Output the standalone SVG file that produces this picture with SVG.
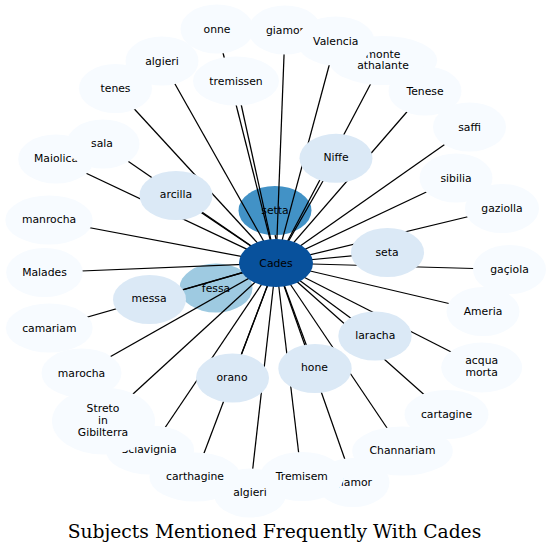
<svg xmlns="http://www.w3.org/2000/svg" width="551" height="554" viewBox="0 0 551 554">
<style>
.n ellipse{stroke:none}
.p{fill:#f7fbff}
.l{fill:#dbe9f6}
.t{font-family:"DejaVu Sans","Liberation Sans",sans-serif;font-size:10.8px;fill:#000;text-anchor:middle}
#edges line{stroke:#000;stroke-width:1.25}
.title{font-family:"DejaVu Serif","Liberation Serif",serif;font-size:18.7px;fill:#000;text-anchor:middle}
</style>
<rect width="551" height="554" fill="#fff"/>
<g id="node-setta" class="n"><ellipse cx="275" cy="210.5" rx="36.5" ry="24.5" fill="#4292c6"/><text class="t" x="275" y="214.2">setta</text></g>
<g id="node-fessa" class="n"><ellipse cx="216" cy="288" rx="36.5" ry="24.5" fill="#9ecae1"/><text class="t" x="216" y="291.7">fessa</text></g>
<g id="edges">
<line x1="276" y1="263" x2="217" y2="29"/>
<line x1="276" y1="263" x2="285" y2="30"/>
<line x1="276" y1="263" x2="383" y2="60.5"/>
<line x1="276" y1="263" x2="335.7" y2="41"/>
<line x1="276" y1="263" x2="162" y2="61"/>
<line x1="276" y1="263" x2="236" y2="81"/>
<line x1="276" y1="263" x2="115.5" y2="88.5"/>
<line x1="276" y1="263" x2="425" y2="91"/>
<line x1="276" y1="263" x2="469.5" y2="127"/>
<line x1="276" y1="263" x2="456" y2="178"/>
<line x1="276" y1="263" x2="502" y2="208.5"/>
<line x1="276" y1="263" x2="509.5" y2="269.5"/>
<line x1="276" y1="263" x2="483" y2="311.5"/>
<line x1="276" y1="263" x2="481.7" y2="367.5"/>
<line x1="276" y1="263" x2="446.5" y2="414.5"/>
<line x1="276" y1="263" x2="402.5" y2="451"/>
<line x1="276" y1="263" x2="353" y2="482.5"/>
<line x1="276" y1="263" x2="301.5" y2="476.5"/>
<line x1="276" y1="263" x2="250" y2="493"/>
<line x1="276" y1="263" x2="195" y2="477"/>
<line x1="276" y1="263" x2="150" y2="450"/>
<line x1="276" y1="263" x2="103.5" y2="421"/>
<line x1="276" y1="263" x2="81.5" y2="373"/>
<line x1="276" y1="263" x2="49.3" y2="328"/>
<line x1="276" y1="263" x2="44.5" y2="272.5"/>
<line x1="276" y1="263" x2="49" y2="220"/>
<line x1="276" y1="263" x2="56" y2="159"/>
<line x1="276" y1="263" x2="103" y2="144"/>
<line x1="276" y1="263" x2="176" y2="195.5"/>
<line x1="276" y1="263" x2="336" y2="158.3"/>
<line x1="276" y1="263" x2="387.5" y2="252.5"/>
<line x1="276" y1="263" x2="375" y2="336"/>
<line x1="276" y1="263" x2="315" y2="368.5"/>
<line x1="276" y1="263" x2="232.5" y2="378"/>
<line x1="276" y1="263" x2="149.5" y2="299.5"/>
<line x1="276" y1="239" x2="275.1" y2="235"/>
<line x1="245.2" y1="275.9" x2="246.9" y2="275.1"/>
</g>
<g id="node-onne" class="n"><ellipse class="p" cx="217" cy="29" rx="36.5" ry="24.5"/><text class="t" x="217" y="32.7">onne</text></g>
<g id="node-giamor" class="n"><ellipse class="p" cx="285" cy="30" rx="36.5" ry="24.5"/><text class="t" x="285" y="33.7">giamor</text></g>
<g id="node-monte-athalante" class="n"><ellipse class="p" cx="383" cy="60.5" rx="54" ry="24.5"/><text class="t" x="383" y="57.5">monte</text><text class="t" x="383" y="69.3">athalante</text></g>
<g id="node-valencia" class="n"><ellipse class="p" cx="335.7" cy="41" rx="38.7" ry="24.5"/><text class="t" x="335.7" y="44.7">Valencia</text></g>
<g id="node-algieri" class="n"><ellipse class="p" cx="162" cy="61" rx="36.5" ry="24.5"/><text class="t" x="162" y="64.7">algieri</text></g>
<g id="node-tremissen" class="n"><ellipse class="p" cx="236" cy="81" rx="43" ry="24.5"/><text class="t" x="236" y="84.7">tremissen</text></g>
<g id="node-tenes" class="n"><ellipse class="p" cx="115.5" cy="88.5" rx="36.5" ry="24.5"/><text class="t" x="115.5" y="92.2">tenes</text></g>
<g id="node-tenese" class="n"><ellipse class="p" cx="425" cy="91" rx="36.5" ry="24.5"/><text class="t" x="425" y="94.7">Tenese</text></g>
<g id="node-saffi" class="n"><ellipse class="p" cx="469.5" cy="127" rx="36.5" ry="24.5"/><text class="t" x="469.5" y="130.7">saffi</text></g>
<g id="node-sibilia" class="n"><ellipse class="p" cx="456" cy="178" rx="36.5" ry="24.5"/><text class="t" x="456" y="181.7">sibilia</text></g>
<g id="node-gaziolla" class="n"><ellipse class="p" cx="502" cy="208.5" rx="37" ry="24.5"/><text class="t" x="502" y="212.2">gaziolla</text></g>
<g id="node-gaciola" class="n"><ellipse class="p" cx="509.5" cy="269.5" rx="36.5" ry="24.5"/><text class="t" x="509.5" y="273.2">gaçiola</text></g>
<g id="node-ameria" class="n"><ellipse class="p" cx="483" cy="311.5" rx="36.5" ry="24.5"/><text class="t" x="483" y="315.2">Ameria</text></g>
<g id="node-acqua-morta" class="n"><ellipse class="p" cx="481.7" cy="367.5" rx="40.5" ry="25"/><text class="t" x="481.7" y="364">acqua</text><text class="t" x="481.7" y="375.7">morta</text></g>
<g id="node-cartagine" class="n"><ellipse class="p" cx="446.5" cy="414.5" rx="42" ry="24.5"/><text class="t" x="446.5" y="417.5">cartagine</text></g>
<g id="node-channariam" class="n"><ellipse class="p" cx="402.5" cy="451" rx="50.3" ry="24.5"/><text class="t" x="402.5" y="454.2">Channariam</text></g>
<g id="node-giamor-2" class="n"><ellipse class="p" cx="353" cy="482.5" rx="36.5" ry="24.5"/><text class="t" x="353" y="485.7">giamor</text></g>
<g id="node-algieri-2" class="n"><ellipse class="p" cx="250" cy="493" rx="36.5" ry="24.5"/><text class="t" x="250" y="496.2">algieri</text></g>
<g id="node-tremisem" class="n"><ellipse class="p" cx="302" cy="476.5" rx="42" ry="24.5"/><text class="t" x="301.8" y="479.5">Tremisem</text></g>
<g id="node-carthagine" class="n"><ellipse class="p" cx="195" cy="477" rx="45.6" ry="24.5"/><text class="t" x="195" y="480">carthagine</text></g>
<g id="node-sciavignia" class="n"><ellipse class="p" cx="150" cy="450" rx="44.2" ry="24.5"/><text class="t" x="176.5" y="452.8" style="text-anchor:end">Sciavignia</text></g>
<g id="node-streto" class="n"><ellipse class="p" cx="103.5" cy="421" rx="51.5" ry="33.5"/><text class="t" x="103" y="412.3">Streto</text><text class="t" x="103" y="424.1">in</text><text class="t" x="103" y="435.9">Gibilterra</text></g>
<g id="node-marocha" class="n"><ellipse class="p" cx="81.5" cy="373" rx="40" ry="24.5"/><text class="t" x="81.5" y="376.5">marocha</text></g>
<g id="node-camariam" class="n"><ellipse class="p" cx="49.3" cy="328" rx="43.4" ry="24.5"/><text class="t" x="49.3" y="331.5">camariam</text></g>
<g id="node-malades" class="n"><ellipse class="p" cx="44.5" cy="272.5" rx="38.3" ry="24.5"/><text class="t" x="44.5" y="276">Malades</text></g>
<g id="node-manrocha" class="n"><ellipse class="p" cx="49" cy="220" rx="43.7" ry="24.5"/><text class="t" x="49" y="223">manrocha</text></g>
<g id="node-maiolica" class="n"><ellipse class="p" cx="56" cy="159" rx="37.8" ry="24.5"/><text class="t" x="56" y="162">Maiolica</text></g>
<g id="node-sala" class="n"><ellipse class="p" cx="103" cy="144" rx="36.5" ry="24.5"/><text class="t" x="102" y="147">sala</text></g>
<g id="node-arcilla" class="n"><ellipse class="l" cx="176" cy="195.5" rx="36.5" ry="24.5"/><text class="t" x="176" y="198">arcilla</text></g>
<g id="node-niffe" class="n"><ellipse class="l" cx="336" cy="158.3" rx="36.5" ry="24.5"/><text class="t" x="336" y="161">Niffe</text></g>
<g id="node-seta" class="n"><ellipse class="l" cx="387.5" cy="252.5" rx="36.5" ry="24.5"/><text class="t" x="387" y="255.5">seta</text></g>
<g id="node-laracha" class="n"><ellipse class="l" cx="375" cy="336" rx="36.7" ry="24.5"/><text class="t" x="375.3" y="339">laracha</text></g>
<g id="node-hone" class="n"><ellipse class="l" cx="315" cy="368.5" rx="36.7" ry="24.5"/><text class="t" x="314.5" y="371.2">hone</text></g>
<g id="node-orano" class="n"><ellipse class="l" cx="232.5" cy="378" rx="36.5" ry="24.5"/><text class="t" x="232" y="381">orano</text></g>
<g id="node-messa" class="n"><ellipse class="l" cx="149.5" cy="299.5" rx="36.5" ry="24.5"/><text class="t" x="149" y="302.2">messa</text></g>
<g id="node-cades" class="n"><ellipse cx="276" cy="263" rx="37" ry="24" fill="#08519c"/><text class="t" x="276" y="266.5">Cades</text></g>
<text class="title" x="274.5" y="538">Subjects Mentioned Frequently With Cades</text>
</svg>
